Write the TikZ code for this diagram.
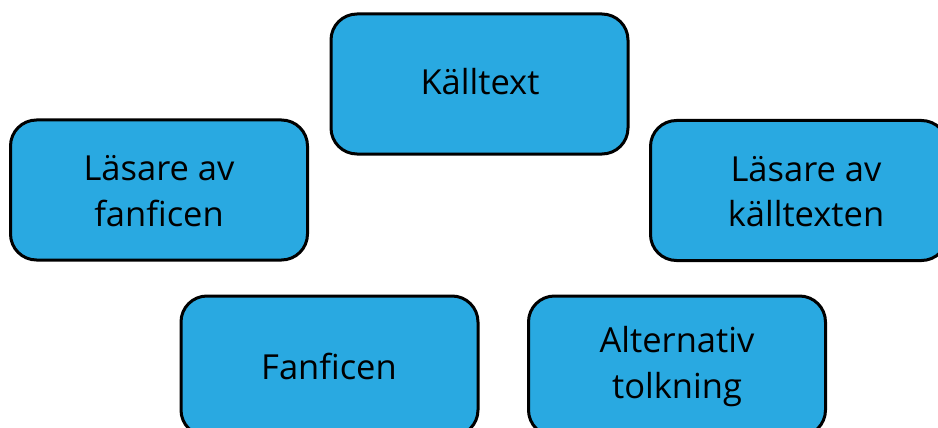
\documentclass[tikz,border=0pt]{standalone}
\usepackage{fontspec}
\setmainfont{Open Sans}
\definecolor{boxblue}{HTML}{29A9E1}
\begin{document}
\begin{tikzpicture}[x=1pt,y=-1pt,
  bx/.style={draw=black,line width=3pt,fill=boxblue,rounded corners=26pt,minimum width=297pt,minimum height=140pt,inner sep=0pt},
  lbl/.style={font=\fontsize{34.5}{45.5}\selectfont,align=center,text=black}]
\useasboundingbox (0,0) rectangle (938,428);
\clip (0,0) rectangle (938,428);
\node[bx] (kall) at (479.5,84) {};
\node[bx] (lfan) at (159,190) {};
\node[bx] (lkall) at (799,190.5) {};
\node[bx] (fan) at (329.5,366) {};
\node[bx] (alt) at (677,366) {};
\node[lbl] (tkall) at (480,82) {Källtext};
\node[lbl] (tlfan) at (159,191) {Läsare av\\fanficen};
\node[lbl] (tlkall) at (806,191.5) {Läsare av\\källtexten};
\node[lbl] (tfan) at (329,366) {Fanficen};
\node[lbl] (talt) at (677,366.5) {Alternativ\\tolkning};
\end{tikzpicture}
\end{document}
